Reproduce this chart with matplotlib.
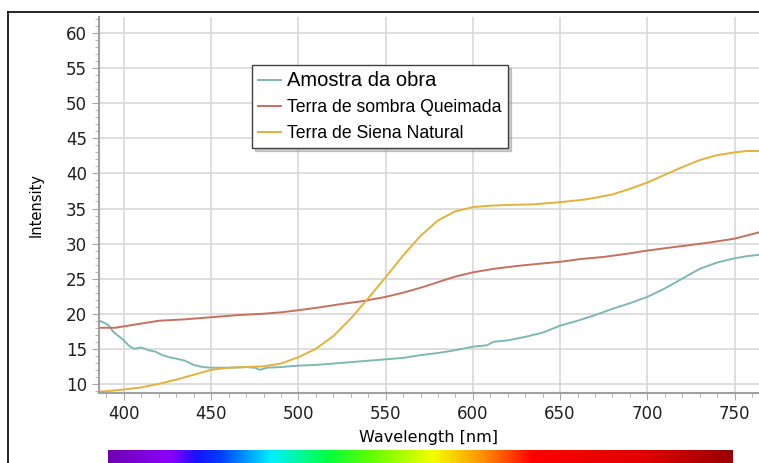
import matplotlib
matplotlib.use("Agg")
import matplotlib.pyplot as plt
from matplotlib.colors import LinearSegmentedColormap
from matplotlib.ticker import MultipleLocator
import numpy as np

# wavelength [nm] and intensities
wl_amostra = [386, 388, 391, 394, 397, 400, 403, 406, 410, 414, 418, 422, 426, 430, 435,
              440, 445, 450, 460, 470, 475, 478, 482, 490, 500, 510, 520, 530, 540, 550,
              560, 570, 580, 590, 600, 608, 612, 620, 630, 640, 650, 660, 670, 680, 690,
              700, 710, 720, 730, 740, 750, 757, 764]
amostra = [19.0, 18.8, 18.4, 17.4, 16.8, 16.2, 15.4, 15.0, 15.2, 14.8, 14.6, 14.1, 13.8, 13.6, 13.3,
           12.7, 12.4, 12.3, 12.3, 12.4, 12.3, 12.0, 12.3, 12.4, 12.6, 12.7, 12.9, 13.1, 13.3, 13.5,
           13.7, 14.1, 14.4, 14.8, 15.3, 15.5, 16.0, 16.2, 16.7, 17.3, 18.3, 19.0, 19.8, 20.7, 21.5,
           22.4, 23.6, 25.0, 26.4, 27.3, 27.9, 28.2, 28.4]

wl_sombra = [386, 395, 400, 410, 420, 435, 450, 465, 480, 490, 500, 512, 525, 537, 550,
             560, 570, 580, 590, 600, 612, 625, 637, 650, 662, 675, 687, 700, 712, 725,
             737, 750, 764]
sombra = [18.0, 18.0, 18.2, 18.6, 19.0, 19.2, 19.5, 19.8, 20.0, 20.2, 20.5, 20.9, 21.4, 21.8, 22.4,
          23.0, 23.7, 24.5, 25.3, 25.9, 26.4, 26.8, 27.1, 27.4, 27.8, 28.1, 28.5, 29.0, 29.4, 29.8,
          30.2, 30.7, 31.6]

wl_siena = [386, 392, 400, 410, 420, 430, 440, 450, 460, 470, 480, 490, 500, 510, 520,
            530, 540, 550, 560, 570, 580, 590, 600, 610, 620, 635, 650, 665, 680, 690,
            700, 710, 720, 730, 740, 750, 757, 764]
siena = [8.9, 9.0, 9.2, 9.5, 10.0, 10.6, 11.3, 12.0, 12.3, 12.4, 12.5, 12.9, 13.8, 15.0, 16.8,
         19.3, 22.2, 25.2, 28.3, 31.1, 33.3, 34.6, 35.2, 35.4, 35.5, 35.6, 35.9, 36.3, 37.0, 37.8,
         38.7, 39.8, 40.9, 41.9, 42.6, 43.0, 43.2, 43.2]

labels = ["Amostra da obra", "Terra de sombra Queimada", "Terra de Siena Natural"]
colors = ["#7fb8b6", "#c7705f", "#e2b23c"]

fig = plt.figure(figsize=(7.59, 4.63), dpi=100)
ax = fig.add_axes([0.1304, 0.1512, 0.8696, 0.8121])

ax.plot(wl_amostra, amostra, color=colors[0], lw=1.4, label=labels[0])
ax.plot(wl_sombra, sombra, color=colors[1], lw=1.4, label=labels[1])
ax.plot(wl_siena, siena, color=colors[2], lw=1.4, label=labels[2])

ax.set_xlim(385.7, 764)
ax.set_ylim(8.7, 62.3)
ax.xaxis.set_major_locator(MultipleLocator(50))
ax.xaxis.set_minor_locator(MultipleLocator(10))
ax.yaxis.set_major_locator(MultipleLocator(5))
ax.yaxis.set_minor_locator(MultipleLocator(1))
ax.grid(True, which="major", color="#d8d8d8", lw=1.2)
ax.set_axisbelow(True)
for s in ["top", "right"]:
    ax.spines[s].set_visible(False)
for s in ["left", "bottom"]:
    ax.spines[s].set_color("#a0a0a0")
    ax.spines[s].set_linewidth(1.5)
ax.tick_params(which="major", length=5, labelsize=12)
ax.tick_params(which="minor", length=3)
ax.tick_params(axis="both", which="both", colors="#a8a8a8", labelcolor="#202020")
ax.set_xlabel("Wavelength [nm]", fontsize=11.5, labelpad=5)
ax.set_ylabel("Intensity", fontsize=10.5, labelpad=16)

leg = ax.legend(loc="upper left", bbox_to_anchor=(0.232, 0.872), frameon=True, fancybox=False,
                shadow={"color": "#9a9a9a", "alpha": 0.5}, edgecolor="#404040",
                prop={"family": "Liberation Sans", "size": 12.7},
                handlelength=1.3, handletextpad=0.35, borderpad=0.35, labelspacing=0.5,
                borderaxespad=0)
leg.get_frame().set_linewidth(1.0)
leg.get_texts()[0].set_fontsize(14.5)

# spectrum strip under the axis
cax = fig.add_axes([108 / 759, 0.0, (733 - 108) / 759, 13 / 463])
spec = LinearSegmentedColormap.from_list("spec", [
    (0.0, "#7000b0"), (0.1, "#8a00ff"), (0.14, "#1a10ff"), (0.18, "#0040ff"),
    (0.26, "#00f0ff"), (0.35, "#00ff40"), (0.42, "#60ff00"), (0.52, "#f4ff00"),
    (0.6, "#ff9000"), (0.68, "#ff0000"), (0.86, "#e00000"), (1.0, "#980000")])
cax.imshow(np.linspace(0, 1, 512)[None, :], aspect="auto", cmap=spec)
cax.set_axis_off()

# outer frame lines
fig.add_artist(plt.Line2D([8 / 759, 1], [1 - 12 / 463, 1 - 12 / 463], color="black", lw=1.2))
fig.add_artist(plt.Line2D([8 / 759, 8 / 759], [0, 1 - 12 / 463], color="black", lw=1.2))

fig.savefig("out.png", dpi=100)
